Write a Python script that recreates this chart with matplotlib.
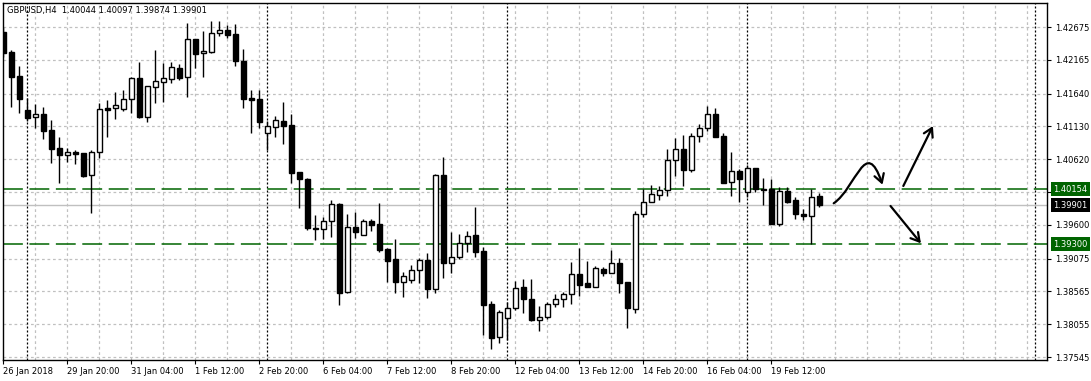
import numpy as np
import matplotlib.pyplot as plt
import matplotlib.transforms as mtransforms
from matplotlib.path import Path
from matplotlib.patches import FancyArrowPatch

# GBPUSD H4 candles
opens = [1.42602, 1.42282, 1.41914, 1.41385, 1.41272, 1.41318, 1.41074, 1.40794, 1.40681, 1.40732,
         1.40712, 1.40370, 1.40728, 1.41412, 1.41412, 1.41405, 1.41551, 1.41878, 1.41281, 1.41747,
         1.41825, 1.41872, 1.42033, 1.41893, 1.42489, 1.42266, 1.42291, 1.42577, 1.42629, 1.42567,
         1.42147, 1.41567, 1.41556, 1.41023, 1.41125, 1.41214, 1.41152, 1.40421, 1.40312, 1.39555,
         1.39540, 1.39655, 1.39924, 1.38561, 1.39562, 1.39437, 1.39660, 1.39613, 1.39224, 1.39064,
         1.38716, 1.38738, 1.38893, 1.39049, 1.38598, 1.40370, 1.39002, 1.39095, 1.39322, 1.39437,
         1.39189, 1.38365, 1.37852, 1.38147, 1.38303, 1.38634, 1.38442, 1.38116, 1.38163, 1.38365,
         1.38442, 1.38520, 1.38831, 1.38691, 1.38638, 1.38913, 1.38847, 1.39002, 1.38707, 1.38296,
         1.39764, 1.39950, 1.40059, 1.40137, 1.40603, 1.40774, 1.40452, 1.40976, 1.41101, 1.41318,
         1.40976, 1.40261, 1.40437, 1.40115, 1.40479, 1.40157, 1.40152, 1.39613, 1.40121, 1.39981,
         1.39768, 1.39742, 1.40044]
highs = [1.42675, 1.42318, 1.42069, 1.41567, 1.41478, 1.41427, 1.41230, 1.40961, 1.40790, 1.40763,
         1.40721, 1.40763, 1.41489, 1.41541, 1.41670, 1.41696, 1.41903, 1.42131, 1.41758, 1.42318,
         1.42120, 1.42131, 1.42100, 1.42742, 1.42489, 1.42613, 1.42769, 1.42773, 1.42706, 1.42722,
         1.42329, 1.41696, 1.41696, 1.41219, 1.41292, 1.41514, 1.41323, 1.40421, 1.40323, 1.39753,
         1.39726, 1.39986, 1.39935, 1.39764, 1.39795, 1.39695, 1.39695, 1.39935, 1.39235, 1.39375,
         1.38862, 1.38976, 1.39084, 1.39167, 1.40390, 1.40650, 1.39489, 1.39458, 1.39499, 1.39882,
         1.39251, 1.38416, 1.38276, 1.38405, 1.38727, 1.38758, 1.38758, 1.38338, 1.38396, 1.38525,
         1.38561, 1.39018, 1.39235, 1.39038, 1.38960, 1.38949, 1.39209, 1.39089, 1.38707, 1.39820,
         1.40152, 1.40219, 1.40204, 1.40774, 1.40945, 1.40996, 1.41023, 1.41167, 1.41452, 1.41412,
         1.41023, 1.40732, 1.40473, 1.40530, 1.40479, 1.40323, 1.40312, 1.40193, 1.40183, 1.40028,
         1.39846, 1.40152, 1.40097]
lows = [1.42209, 1.41436, 1.41343, 1.41219, 1.41101, 1.40930, 1.40566, 1.40246, 1.40581, 1.40541,
        1.40348, 1.39789, 1.40634, 1.40970, 1.41241, 1.41374, 1.41343, 1.41256, 1.41203, 1.41499,
        1.41514, 1.41800, 1.41851, 1.41582, 1.42040, 1.41893, 1.42266, 1.42535, 1.42500, 1.42069,
        1.41421, 1.41023, 1.41110, 1.40763, 1.40961, 1.40857, 1.40255, 1.39866, 1.39520, 1.39364,
        1.39384, 1.39416, 1.38354, 1.38536, 1.39400, 1.39437, 1.39509, 1.39182, 1.38716, 1.38545,
        1.38483, 1.38691, 1.38700, 1.38458, 1.38536, 1.38778, 1.38856, 1.39064, 1.39182, 1.39105,
        1.37887, 1.37665, 1.37758, 1.37810, 1.38276, 1.38234, 1.38110, 1.37954, 1.38136, 1.38318,
        1.38327, 1.38369, 1.38498, 1.38638, 1.38638, 1.38809, 1.38847, 1.38545, 1.37992, 1.38234,
        1.39726, 1.39950, 1.39986, 1.40048, 1.40359, 1.40204, 1.40426, 1.40892, 1.41059, 1.40961,
        1.40246, 1.40048, 1.39955, 1.40037, 1.40115, 1.39908, 1.39613, 1.39582, 1.39935, 1.39695,
        1.39675, 1.39300, 1.39874]
closes = [1.42276, 1.41903, 1.41561, 1.41265, 1.41318, 1.41063, 1.40784, 1.40690, 1.40728, 1.40706,
          1.40359, 1.40728, 1.41396, 1.41390, 1.41458, 1.41551, 1.41878, 1.41281, 1.41754, 1.41831,
          1.41878, 1.42049, 1.41878, 1.42484, 1.42260, 1.42298, 1.42577, 1.42629, 1.42556, 1.42151,
          1.41561, 1.41545, 1.41203, 1.41132, 1.41230, 1.41141, 1.40401, 1.40317, 1.39555, 1.39540,
          1.39655, 1.39919, 1.38545, 1.39562, 1.39484, 1.39655, 1.39602, 1.39209, 1.39042, 1.38716,
          1.38800, 1.38893, 1.39049, 1.38598, 1.40370, 1.39002, 1.39095, 1.39322, 1.39431, 1.39182,
          1.38358, 1.37845, 1.38240, 1.38303, 1.38623, 1.38442, 1.38116, 1.38163, 1.38365, 1.38442,
          1.38520, 1.38831, 1.38669, 1.38638, 1.38924, 1.38847, 1.39002, 1.38700, 1.38312, 1.39764,
          1.39950, 1.40075, 1.40141, 1.40603, 1.40774, 1.40457, 1.40976, 1.41101, 1.41318, 1.40970,
          1.40255, 1.40437, 1.40317, 1.40479, 1.40152, 1.40141, 1.39613, 1.40121, 1.39960, 1.39773,
          1.39742, 1.40028, 1.39901]

# axis labels
price_ticks = [1.42675, 1.42165, 1.41640, 1.41130, 1.40620, 1.40110,
               1.39600, 1.39075, 1.38565, 1.38055, 1.37545]
date_bars = [0, 8, 16, 24, 32, 40, 48, 56, 64, 72, 80, 88, 96]
date_labels = ['26 Jan 2018', '29 Jan 20:00', '31 Jan 04:00', '1 Feb 12:00', '2 Feb 20:00',
               '6 Feb 04:00', '7 Feb 12:00', '8 Feb 20:00', '12 Feb 04:00', '13 Feb 12:00',
               '14 Feb 20:00', '16 Feb 04:00', '19 Feb 12:00']
day_separators = [3, 33, 63, 93, 129]

# horizontal levels
resistance = 1.40154
support = 1.39300
last_close = closes[-1]

# drawn scenario arrows (bar index, price)
curve_pts = [(103.8, 1.39935), (106.6, 1.40173), (107.8, 1.40996), (109.9, 1.40224)]
arrow_up = [(112.5, 1.40204), (116.2, 1.41136)]
arrow_down = [(110.9, 1.39893), (114.7, 1.39313)]

plt.rcParams['font.family'] = 'DejaVu Sans'

fig = plt.figure(figsize=(10.91, 3.81), dpi=100)
ax = fig.add_axes([2.7 / 1091, 21 / 381, 1044.3 / 1091, 357.3 / 381])
ax.set_xlim(-0.075, 130.46)
ax.set_ylim(1.37499, 1.43053)

grey = '#c0c0c0'
green = '#006400'

# grid
for p in price_ticks:
    ax.axhline(p, color=grey, lw=0.9, ls=(0, (2.2, 2.2)), zorder=0)
for i in range(4, 131, 4):
    ax.axvline(i, color=grey, lw=0.9, ls=(0, (2.2, 2.2)), zorder=0)
for i in day_separators:
    ax.axvline(i, color='black', lw=0.9, ls=(0, (1.6, 1.6)), zorder=1)

# levels
ax.axhline(last_close, color=grey, lw=1, zorder=1)
ax.axhline(resistance, color=green, lw=1.1, ls=(0, (13, 4.3)), zorder=1)
ax.axhline(support, color=green, lw=1.1, ls=(0, (13, 4.3)), zorder=1)

# candles
o = np.array(opens)
h = np.array(highs)
l = np.array(lows)
c = np.array(closes)
x = np.arange(len(o))
ax.vlines(x, l, h, color='black', lw=1, zorder=2)
bull = c >= o
ax.bar(x[bull], (c - o)[bull], bottom=o[bull], width=0.62, color='white',
       edgecolor='black', linewidth=1, zorder=3)
ax.bar(x[~bull], (o - c)[~bull], bottom=c[~bull], width=0.62, color='black',
       edgecolor='black', linewidth=1, zorder=3)

# arrows
curve = Path(curve_pts, [Path.MOVETO, Path.CURVE4, Path.CURVE4, Path.CURVE4])
ax.add_patch(FancyArrowPatch(path=curve, arrowstyle='->,head_length=0.6,head_width=0.35',
                             mutation_scale=10, lw=1.6, color='black', zorder=6))
for start, end in [arrow_up, arrow_down]:
    ax.annotate('', xy=end, xytext=start,
                arrowprops=dict(arrowstyle='->,head_length=0.6,head_width=0.35',
                                mutation_scale=10, lw=1.6, color='black',
                                shrinkA=0, shrinkB=0), zorder=6)

# axes styling
for s in ax.spines.values():
    s.set_color('black')
    s.set_linewidth(1)
ax.yaxis.tick_right()
ax.set_yticks(price_ticks)
ax.set_yticklabels([f'{p:.5f}' for p in price_ticks])
ax.set_xticks(date_bars)
ax.set_xticklabels(date_labels)
for lab in ax.get_xticklabels():
    lab.set_horizontalalignment('left')
ax.tick_params(axis='y', length=3, width=0.8, labelsize=6, pad=3)
ax.tick_params(axis='x', length=3, width=0.8, labelsize=6, pad=2)

# price boxes on the right scale
trans = mtransforms.blended_transform_factory(ax.transAxes, ax.transData)
for val, col in [(resistance, green), (last_close, 'black'), (support, green)]:
    ax.text(1.00575, val, f'{val:.5f}', transform=trans, ha='left', va='center',
            color='white', fontsize=6, clip_on=False, zorder=10,
            bbox=dict(boxstyle='square,pad=0.3', fc=col, ec='none'))

fig.text(7 / 1091, 1 - 10 / 381, 'GBPUSD,H4  1.40044 1.40097 1.39874 1.39901',
         fontsize=6, va='center', ha='left')

fig.savefig('out.png', dpi=100)
